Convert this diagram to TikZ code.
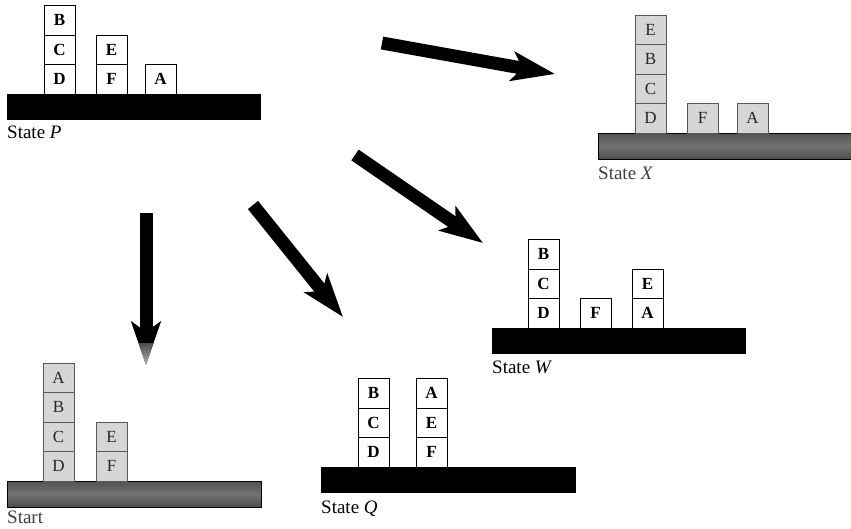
\documentclass[tikz,border=0pt]{standalone}
\usepackage{fontspec}
\setmainfont{Liberation Serif}
\usepackage{tikz}
\usetikzlibrary{positioning,arrows.meta}

\tikzset{
    blk/.style={draw=black, line width=0.6pt, fill=white, minimum width=31pt, minimum height=29.5pt,
        inner sep=0pt, outer sep=0pt, font=\fontsize{17}{17}\selectfont\bfseries},
    gblk/.style={blk, draw=black!65, fill=black!16, text=black!85, font=\fontsize{17}{17}\selectfont},
    tblblack/.style={fill=black, minimum width=254pt, minimum height=26pt, inner sep=0pt, outer sep=0pt},
    tblwood/.style={draw=black, line width=0.8pt, top color=black!68, bottom color=black!70,
        middle color=black!55, minimum width=254pt, minimum height=26pt, inner sep=0pt, outer sep=0pt},
    lbl/.style={inner sep=0pt, font=\fontsize{19}{19}\selectfont},
    glbl/.style={lbl, text=black!75},
    bigarrow/.style={line width=13pt, -{Stealth[length=43pt, width=29pt, inset=10pt]}}
}

\begin{document}
\begin{tikzpicture}[x=1pt, y=-1pt]
    \useasboundingbox (0,0) rectangle (851,528);

    % ===== State P (top left) =====
    \begin{scope}[shift={(7,94)}]
        \node[tblblack, anchor=north west] (P-tbl) at (0,0) {};
        % Stack D, C, B
        \node[blk, above right=0pt and 37pt of P-tbl.north west] (P-D) {D};
        \node[blk, above=0pt of P-D] (P-C) {C};
        \node[blk, above=0pt of P-C] (P-B) {B};
        % Stack F, E
        \node[blk, above right=0pt and 89pt of P-tbl.north west] (P-F) {F};
        \node[blk, above=0pt of P-F] (P-E) {E};
        % Block A alone
        \node[blk, above right=0pt and 138pt of P-tbl.north west] (P-A) {A};
        % Label
        \node[lbl, below right=6pt and 0pt of P-tbl.south west] (P-lbl) {State \textit{P}};
    \end{scope}

    % ===== State X (top right) =====
    \begin{scope}[shift={(598,133)}]
        \node[tblwood, anchor=north west] (X-tbl) at (0,0) {};
        % Stack D, C, B, E
        \node[gblk, above right=0pt and 37pt of X-tbl.north west] (X-D) {D};
        \node[gblk, above=0pt of X-D] (X-C) {C};
        \node[gblk, above=0pt of X-C] (X-B) {B};
        \node[gblk, above=0pt of X-B] (X-E) {E};
        % Blocks F and A
        \node[gblk, above right=0pt and 89pt of X-tbl.north west] (X-F) {F};
        \node[gblk, above right=0pt and 139pt of X-tbl.north west] (X-A) {A};
        % Label
        \node[glbl, below right=8pt and 0pt of X-tbl.south west] (X-lbl) {State \textit{X}};
    \end{scope}

    % ===== State W (middle right) =====
    \begin{scope}[shift={(492,328)}]
        \node[tblblack, anchor=north west] (W-tbl) at (0,0) {};
        % Stack D, C, B
        \node[blk, above right=0pt and 36pt of W-tbl.north west] (W-D) {D};
        \node[blk, above=0pt of W-D] (W-C) {C};
        \node[blk, above=0pt of W-C] (W-B) {B};
        % Block F alone
        \node[blk, above right=0pt and 88pt of W-tbl.north west] (W-F) {F};
        % Stack A, E
        \node[blk, above right=0pt and 140pt of W-tbl.north west] (W-A) {A};
        \node[blk, above=0pt of W-A] (W-E) {E};
        % Label
        \node[lbl, below right=7pt and 0pt of W-tbl.south west] (W-lbl) {State \textit{W}};
    \end{scope}

    % ===== State Q (bottom middle) =====
    \begin{scope}[shift={(321,467)}]
        \node[tblblack, minimum width=255pt, anchor=north west] (Q-tbl) at (0,0) {};
        % Stack D, C, B
        \node[blk, above right=0pt and 37pt of Q-tbl.north west] (Q-D) {D};
        \node[blk, above=0pt of Q-D] (Q-C) {C};
        \node[blk, above=0pt of Q-C] (Q-B) {B};
        % Stack F, E, A
        \node[blk, above right=0pt and 95pt of Q-tbl.north west] (Q-F) {F};
        \node[blk, above=0pt of Q-F] (Q-E) {E};
        \node[blk, above=0pt of Q-E] (Q-A) {A};
        % Label
        \node[lbl, below right=8pt and 0pt of Q-tbl.south west] (Q-lbl) {State \textit{Q}};
    \end{scope}

    % ===== Start (bottom left) =====
    \begin{scope}[shift={(7,481)}]
        \node[tblwood, anchor=north west] (S-tbl) at (0,0) {};
        % Stack D, C, B, A
        \node[gblk, above right=0pt and 36pt of S-tbl.north west] (S-D) {D};
        \node[gblk, above=0pt of S-D] (S-C) {C};
        \node[gblk, above=0pt of S-C] (S-B) {B};
        \node[gblk, above=0pt of S-B] (S-A) {A};
        % Stack F, E
        \node[gblk, above right=0pt and 89pt of S-tbl.north west] (S-F) {F};
        \node[gblk, above=0pt of S-F] (S-E) {E};
        % Label
        \node[glbl, below right=4pt and 0pt of S-tbl.south west] (S-lbl) {Start};
    \end{scope}

    % ===== Arrows =====
    \coordinate (PtoX-s) at (382,43);  \coordinate (PtoX-e) at (555,74);
    \coordinate (PtoW-s) at (355,155); \coordinate (PtoW-e) at (483,243);
    \coordinate (PtoQ-s) at (253,205); \coordinate (PtoQ-e) at (343,317);
    \coordinate (PtoS-s) at (146,213); \coordinate (PtoS-e) at (146,365);
    \draw[bigarrow] (PtoX-s) -- (PtoX-e);
    \draw[bigarrow] (PtoW-s) -- (PtoW-e);
    \draw[bigarrow] (PtoQ-s) -- (PtoQ-e);
    \draw[bigarrow] (PtoS-s) -- (PtoS-e);
    % Faded grey tip of the downward arrow
    \shade[top color=black!70, bottom color=black!30] (138.5,343) -- (153.5,343) -- (PtoS-e) -- cycle;
\end{tikzpicture}
\end{document}
